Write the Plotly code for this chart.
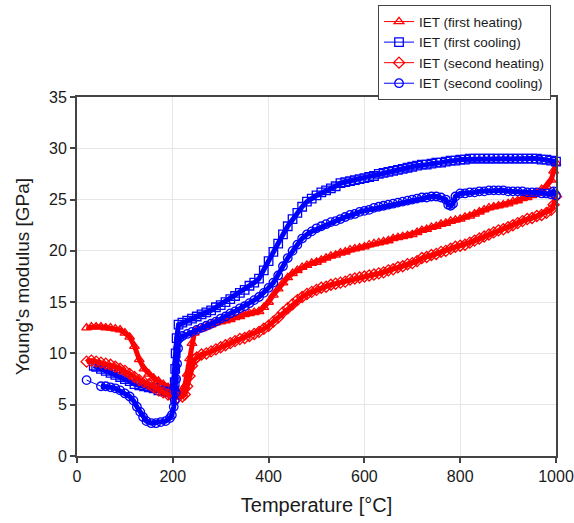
import plotly.graph_objects as go

# Young's modulus from impulse excitation technique (IET), two thermal cycles

# first heating
fh_temp = [20, 30, 40, 50, 60, 70, 80, 90, 100, 110, 120, 130, 140, 150, 160, 170, 180, 190, 200, 210,
           220, 225, 230, 235, 240, 245, 250, 260, 270, 280, 290, 300, 310, 320, 330, 340, 350, 360, 370,
           380, 390, 400, 410, 420, 430, 440, 450, 460, 470, 480, 490, 500, 510, 520, 530, 540, 550, 560,
           570, 580, 590, 600, 610, 620, 630, 640, 650, 660, 670, 680, 690, 700, 710, 720, 730, 740, 750,
           760, 770, 780, 790, 800, 810, 820, 830, 840, 850, 860, 870, 880, 890, 900, 910, 920, 930, 940,
           950, 960, 970, 980, 990, 995, 1000]
fh_mod = [12.5, 12.6, 12.6, 12.6, 12.5, 12.5, 12.4, 12.3, 12.0, 11.6, 10.7, 9.4, 8.5, 8.0, 7.6, 7.3, 7.0, 6.7, 6.5, 6.3,
          6.2, 6.8, 8.0, 9.5, 11.0, 12.0, 12.3, 12.4, 12.6, 12.8, 13.0, 13.1, 13.2, 13.3, 13.5, 13.6, 13.8, 13.9, 14.0,
          14.1, 14.5, 15.0, 15.7, 16.3, 16.9, 17.4, 17.8, 18.1, 18.4, 18.6, 18.8, 18.9, 19.1, 19.3, 19.5, 19.6, 19.8, 19.9,
          20.1, 20.2, 20.3, 20.4, 20.6, 20.7, 20.8, 20.9, 21.0, 21.2, 21.3, 21.4, 21.5, 21.6, 21.8, 22.0, 22.1, 22.3, 22.4,
          22.6, 22.7, 22.9, 23.0, 23.1, 23.3, 23.4, 23.6, 23.8, 24.0, 24.2, 24.3, 24.4, 24.5, 24.6, 24.8, 24.9, 25.1, 25.2,
          25.4, 25.6, 26.0, 26.3, 26.9, 27.8, 28.6]

# first cooling
fc_temp = [1000, 990, 980, 970, 960, 950, 940, 930, 920, 910, 900, 890, 880, 870, 860, 850, 840, 830, 820, 810,
           800, 790, 780, 770, 760, 750, 740, 730, 720, 710, 700, 690, 680, 670, 660, 650, 640, 630, 620, 610,
           600, 590, 580, 570, 560, 550, 540, 530, 520, 510, 500, 490, 480, 470, 460, 450, 440, 430, 420, 410,
           400, 390, 380, 370, 360, 350, 340, 330, 320, 310, 300, 290, 280, 270, 260, 250, 240, 230, 220, 212,
           208, 206, 205, 204, 203, 200, 190, 180, 170, 160, 150, 140, 130, 120, 110, 100, 90, 80, 70, 60,
           50, 40, 35]
fc_mod = [28.7, 28.8, 28.9, 28.9, 29.0, 29.0, 29.0, 29.0, 29.0, 29.0, 29.0, 29.0, 29.0, 29.0, 29.0, 29.0, 29.0, 29.0, 29.0, 28.9,
          28.9, 28.8, 28.8, 28.7, 28.6, 28.6, 28.5, 28.4, 28.4, 28.3, 28.2, 28.1, 28.0, 27.9, 27.8, 27.7, 27.6, 27.5, 27.3, 27.2,
          27.1, 27.0, 26.9, 26.8, 26.7, 26.6, 26.3, 26.1, 25.9, 25.7, 25.4, 25.1, 24.8, 24.3, 23.7, 23.1, 22.4, 21.6, 20.7, 19.9,
          19.0, 18.1, 17.3, 16.9, 16.6, 16.2, 15.9, 15.6, 15.3, 15.0, 14.7, 14.5, 14.2, 14.0, 13.8, 13.6, 13.4, 13.2, 13.0, 12.8,
          11.5, 10.0, 8.5, 7.2, 6.3, 6.0, 6.2, 6.3, 6.4, 6.6, 6.7, 6.8, 6.9, 7.0, 7.3, 7.5, 7.7, 7.9, 8.1, 8.3,
          8.5, 8.7, 8.8]

# second heating
sh_temp = [20, 30, 40, 50, 60, 70, 80, 90, 100, 110, 120, 130, 140, 150, 160, 170, 180, 190, 200, 210,
           220, 225, 230, 235, 240, 245, 250, 260, 270, 280, 290, 300, 310, 320, 330, 340, 350, 360, 370,
           380, 390, 400, 410, 420, 430, 440, 450, 460, 470, 480, 490, 500, 510, 520, 530, 540, 550, 560,
           570, 580, 590, 600, 610, 620, 630, 640, 650, 660, 670, 680, 690, 700, 710, 720, 730, 740, 750,
           760, 770, 780, 790, 800, 810, 820, 830, 840, 850, 860, 870, 880, 890, 900, 910, 920, 930, 940,
           950, 960, 970, 980, 990, 995, 1000]
sh_mod = [9.2, 9.3, 9.2, 9.1, 9.0, 8.9, 8.7, 8.5, 8.3, 8.0, 7.7, 7.4, 7.2, 7.0, 6.7, 6.4, 6.2, 6.0, 5.8, 5.7,
          5.8, 6.0, 6.8, 7.8, 8.8, 9.4, 9.6, 9.9, 10.0, 10.2, 10.4, 10.6, 10.8, 11.0, 11.2, 11.4, 11.5, 11.7, 11.9,
          12.1, 12.4, 12.7, 13.1, 13.5, 14.0, 14.4, 14.8, 15.2, 15.5, 15.8, 16.0, 16.2, 16.4, 16.5, 16.7, 16.8, 16.9, 17.0,
          17.2, 17.3, 17.4, 17.5, 17.6, 17.7, 17.8, 17.9, 18.1, 18.2, 18.4, 18.5, 18.7, 18.8, 19.0, 19.3, 19.4, 19.6, 19.7,
          19.9, 20.0, 20.2, 20.4, 20.5, 20.6, 20.8, 21.0, 21.2, 21.4, 21.6, 21.8, 22.0, 22.1, 22.3, 22.5, 22.7, 22.9, 23.1,
          23.2, 23.4, 23.5, 23.7, 24.0, 24.5, 25.3]

# second cooling (the last reading, at 20 °C, was taken separately)
sc_temp = [1000, 995, 990, 980, 970, 960, 950, 940, 930, 920, 910, 900, 890, 880, 870, 860, 850, 840, 830, 820,
           810, 800, 790, 785, 780, 775, 770, 760, 750, 740, 730, 720, 710, 700, 690, 680, 670, 660, 650, 640,
           630, 620, 610, 600, 590, 580, 570, 560, 550, 540, 530, 520, 510, 500, 490, 480, 470, 460, 450, 440,
           430, 420, 410, 400, 390, 380, 370, 360, 350, 340, 330, 320, 310, 300, 290, 280, 270, 260, 250, 240,
           230, 220, 214, 211, 209, 207, 206, 204, 202, 198, 194, 185, 175, 165, 155, 145, 138, 132, 125, 118,
           110, 100, 90, 80, 70, 60, 50, 20]
sc_mod = [25.4, 25.8, 25.5, 25.6, 25.6, 25.7, 25.7, 25.7, 25.8, 25.8, 25.8, 25.8, 25.9, 25.9, 25.9, 25.9, 25.8, 25.8, 25.7, 25.7,
          25.6, 25.6, 25.3, 24.6, 24.4, 24.5, 25.0, 25.2, 25.3, 25.3, 25.2, 25.2, 25.1, 25.0, 24.9, 24.8, 24.7, 24.6, 24.5, 24.4,
          24.3, 24.2, 24.0, 23.9, 23.8, 23.6, 23.5, 23.3, 23.1, 22.9, 22.8, 22.6, 22.4, 22.2, 21.9, 21.6, 21.2, 20.6, 20.0, 19.3,
          18.5, 17.6, 16.9, 16.4, 15.9, 15.5, 15.2, 14.9, 14.6, 14.4, 14.1, 13.9, 13.6, 13.4, 13.1, 12.9, 12.7, 12.5, 12.3, 12.1,
          11.9, 11.7, 11.5, 10.5, 9.0, 7.5, 6.2, 5.4, 4.8, 4.0, 3.7, 3.4, 3.3, 3.2, 3.2, 3.4, 3.8, 4.3, 4.8, 5.4,
          5.8, 6.1, 6.4, 6.6, 6.7, 6.8, 6.8, 7.4]

RED = "#ff0000"
BLUE = "#0000ff"
FONT = "Liberation Sans, Arial, sans-serif"
TEXT = "#1a1a1a"

# name, temperatures, moduli, colour, symbol, number of points in the continuous run
series = [
    ("IET (first heating)", fh_temp, fh_mod, RED, "triangle-up-open", len(fh_temp)),
    ("IET (first cooling)", fc_temp, fc_mod, BLUE, "square-open", len(fc_temp)),
    ("IET (second heating)", sh_temp, sh_mod, RED, "diamond-open", len(sh_temp)),
    ("IET (second cooling)", sc_temp, sc_mod, BLUE, "circle-open", len(sc_temp) - 1),
]

fig = go.Figure()
for name, t, e, color, symbol, n_run in series:
    # dense measurement band underneath the symbols
    fig.add_trace(go.Scatter(
        x=t[:n_run], y=e[:n_run], mode="lines", line=dict(color=color, width=5),
        showlegend=False, hoverinfo="skip", legendgroup=name, cliponaxis=False,
    ))
    fig.add_trace(go.Scatter(
        x=t, y=e, name=name, mode="lines+markers", legendgroup=name,
        line=dict(color=color, width=1),
        marker=dict(symbol=symbol, size=8.5, color=color, line=dict(color=color, width=1.3)),
        cliponaxis=False,
    ))

axis_common = dict(
    showline=True, linecolor="#444444", linewidth=2, mirror=True,
    ticks="outside", ticklen=5, tickcolor="#444444", tickwidth=1.5,
    showgrid=True, gridcolor="#e6e6e6", gridwidth=1,
    zeroline=False, automargin=False,
    tickfont=dict(family=FONT, size=16, color=TEXT),
)

fig.update_layout(
    width=574, height=523,
    margin=dict(l=77, r=18, t=97, b=67, autoexpand=False),
    plot_bgcolor="white", paper_bgcolor="white",
    font=dict(family=FONT, color=TEXT),
    xaxis=dict(range=[0, 1000], dtick=200,
               title=dict(text="Temperature [°C]", font=dict(family=FONT, size=20, color=TEXT), standoff=14),
               **axis_common),
    yaxis=dict(range=[0, 35], dtick=5,
               title=dict(text="Young's modulus [GPa]", font=dict(family=FONT, size=19, color=TEXT), standoff=14),
               **axis_common),
    legend=dict(
        x=0.628, y=1.256, xanchor="left", yanchor="top",
        bgcolor="white", bordercolor="#444444", borderwidth=1.2,
        font=dict(family=FONT, size=13.5, color=TEXT),
        tracegroupgap=0,
    ),
    showlegend=True,
)

fig.write_html("out.html")
